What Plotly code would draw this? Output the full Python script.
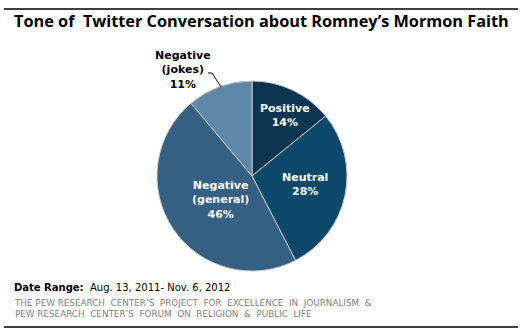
import plotly.graph_objects as go

labels = ["Positive", "Neutral", "Negative (general)", "Negative (jokes)"]
label_text = ["Positive", "Neutral", "Negative<br>(general)", "Negative<br>(jokes)"]
values = [14, 28, 46, 11]
colors = ["#0b3550", "#0c4869", "#355f83", "#5f87a7"]
text_colors = ["white", "white", "white", "black"]
# label centre positions in pixels (x, y from top)
label_pos = [(285, 115), (305, 184), (220, 200), (183, 70)]

W, H = 521, 331

fig = go.Figure(go.Pie(
    labels=labels, values=values, sort=False, direction="clockwise", rotation=0,
    marker=dict(colors=colors, line=dict(color="#c8c8c8", width=1)),
    textinfo="none",
    domain=dict(x=[(252-95)/W, (252+95)/W], y=[60/H, 250/H]),
    showlegend=False, hoverinfo="label+value",
))

shapes = [
    dict(type="line", xref="paper", yref="paper", x0=4/W, x1=518/W, y0=1-9/H, y1=1-9/H,
         line=dict(color="black", width=1.5)),
    dict(type="line", xref="paper", yref="paper", x0=4/W, x1=518/W, y0=1-327/H, y1=1-327/H,
         line=dict(color="black", width=1.5)),
    dict(type="path", xref="paper", yref="paper",
         path=f"M {208/W} {1-73/H} L {212/W} {1-73/H} L {221/W} {1-87/H}",
         line=dict(color="black", width=1)),
]
annotations = [
    dict(text="<b>Tone of  Twitter Conversation about Romney’s Mormon Faith</b>", x=12/W, y=1-21/H,
         xref="paper", yref="paper", xanchor="left", yanchor="middle", showarrow=False,
         font=dict(family="Open Sans", size=16.3, color="black")),
    dict(text="<b>Date Range:</b>  Aug. 13, 2011- Nov. 6, 2012", x=12/W, y=1-287/H,
         xref="paper", yref="paper", xanchor="left", yanchor="middle", showarrow=False,
         font=dict(family="DejaVu Sans", size=10, color="black")),
    dict(text="THE PEW RESEARCH  CENTER’S  PROJECT  FOR  EXCELLENCE  IN  JOURNALISM  &<br>PEW RESEARCH  CENTER’S  FORUM  ON  RELIGION  &  PUBLIC  LIFE",
         x=12/W, y=1-308/H, align="left",
         xref="paper", yref="paper", xanchor="left", yanchor="middle", showarrow=False,
         font=dict(family="DejaVu Sans", size=8.8, color="#7f7f7f")),
]
for t, v, c, (px, py) in zip(label_text, values, text_colors, label_pos):
    annotations.append(dict(
        text=f"<b>{t}<br>{v}%</b>", x=px/W, y=1-py/H, xref="paper", yref="paper",
        xanchor="center", yanchor="middle", showarrow=False, align="center",
        font=dict(family="DejaVu Sans", size=11, color=c)))

fig.update_layout(
    width=W, height=H, margin=dict(l=0, r=0, t=0, b=0),
    paper_bgcolor="white", plot_bgcolor="white",
    shapes=shapes, annotations=annotations,
)
fig.write_html("out.html")
